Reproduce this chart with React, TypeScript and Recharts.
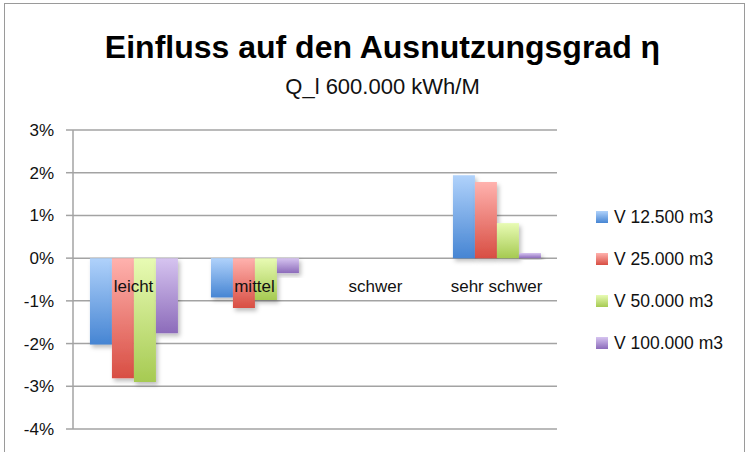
import { BarChart, Bar, XAxis, YAxis, CartesianGrid } from "recharts";

const categories = ["leicht", "mittel", "schwer", "sehr schwer"];
const v12500 = [-0.0202, -0.0092, 0, 0.0194];
const v25000 = [-0.0281, -0.0117, 0, 0.0178];
const v50000 = [-0.029, -0.0098, 0, 0.0082];
const v100000 = [-0.0176, -0.0035, 0, 0.0012];
const yTicks = [-0.04, -0.03, -0.02, -0.01, 0, 0.01, 0.02, 0.03];

const series = [
  { key: "v1", name: "V 12.500 m3", values: v12500, top: "#b0d2fb", bottom: "#4685d3" },
  { key: "v2", name: "V 25.000 m3", values: v25000, top: "#ffb2ae", bottom: "#d84e43" },
  { key: "v3", name: "V 50.000 m3", values: v50000, top: "#e8fbb4", bottom: "#a6ca52" },
  { key: "v4", name: "V 100.000 m3", values: v100000, top: "#d6c4f0", bottom: "#8c6bba" },
];

const data = categories.map((c, i) => {
  const row: Record<string, string | number> = { cat: c };
  series.forEach((s) => (row[s.key] = s.values[i]));
  return row;
});

const FONT = "'Liberation Sans', Arial, sans-serif";
const W = 749;
const H = 452;
const TOP = 130;
const XH = 20;
const BOTTOM = 23;
const PLOT_H = H - TOP - BOTTOM;
// category labels sit just under the zero line
const ZERO_OFFSET = PLOT_H * (0.04 / 0.07);

const CatTick = (props: any) => {
  const { x, y, payload } = props;
  return (
    <text x={x} y={y - ZERO_OFFSET + 26} textAnchor="middle" fontSize={17} fontFamily={FONT} fill="#111">
      {payload.value}
    </text>
  );
};

const LegendBox = () => (
  <div
    style={{
      position: "absolute",
      left: 596,
      top: 196,
      fontFamily: FONT,
      fontSize: 17.5,
      color: "#111",
    }}
  >
    {series.map((s) => (
      <div key={s.key} style={{ display: "flex", alignItems: "center", height: 42 }}>
        <span
          style={{
            width: 12,
            height: 12,
            marginRight: 6,
            background: `linear-gradient(${s.top}, ${s.bottom})`,
            display: "inline-block",
          }}
        />
        {s.name}
      </div>
    ))}
  </div>
);

export default function App() {
  return (
    <div
      style={{
        position: "absolute",
        left: 0,
        top: 0,
        width: W,
        height: H,
        background: "#fff",
        fontFamily: FONT,
      }}
    >
      <div
        style={{
          position: "absolute",
          left: 4,
          top: 3,
          width: W - 8,
          height: H,
          border: "1.5px solid #9a9a9a",
          boxSizing: "border-box",
        }}
      />
      <div
        style={{
          position: "absolute",
          left: 0,
          width: 765,
          top: 29,
          textAlign: "center",
          fontSize: 32,
          fontWeight: "bold",
          color: "#000",
        }}
      >
        Einfluss auf den Ausnutzungsgrad η
      </div>
      <div
        style={{
          position: "absolute",
          left: 0,
          width: 765,
          top: 74,
          textAlign: "center",
          fontSize: 22,
          color: "#111",
        }}
      >
        Q_l 600.000 kWh/M
      </div>
      <BarChart
        width={W}
        height={H}
        data={data}
        margin={{ top: TOP, right: 192, bottom: BOTTOM - XH, left: 8 }}
        barCategoryGap="14%"
        barGap={0}
      >
        <defs>
          {series.map((s) => (
            <linearGradient key={s.key} id={`g-${s.key}`} x1="0" y1="0" x2="0" y2="1">
              <stop offset="0%" stopColor={s.top} />
              <stop offset="100%" stopColor={s.bottom} />
            </linearGradient>
          ))}
          <filter id="shadow" x="-20%" y="-20%" width="150%" height="150%">
            <feDropShadow dx="2" dy="3" stdDeviation="2" floodColor="#000" floodOpacity="0.25" />
          </filter>
        </defs>
        <CartesianGrid vertical={false} stroke="#a3a3a3" strokeWidth={1.5} />
        <XAxis
          dataKey="cat"
          axisLine={false}
          tickLine={false}
          tick={<CatTick />}
          interval={0}
          height={XH}
        />
        <YAxis
          domain={[-0.04, 0.03]}
          ticks={yTicks}
          width={65}
          stroke="#a3a3a3"
          strokeWidth={1.5}
          tickSize={7}
          tickMargin={12}
          tickFormatter={(v: number) => `${Math.round(v * 100)}%`}
          tick={{ fontSize: 17, fill: "#111", fontFamily: FONT }}
        />
        {series.map((s) => (
          <Bar
            key={s.key}
            dataKey={s.key}
            name={s.name}
            fill={`url(#g-${s.key})`}
            filter="url(#shadow)"
            isAnimationActive={false}
          />
        ))}
      </BarChart>
      <LegendBox />
    </div>
  );
}
